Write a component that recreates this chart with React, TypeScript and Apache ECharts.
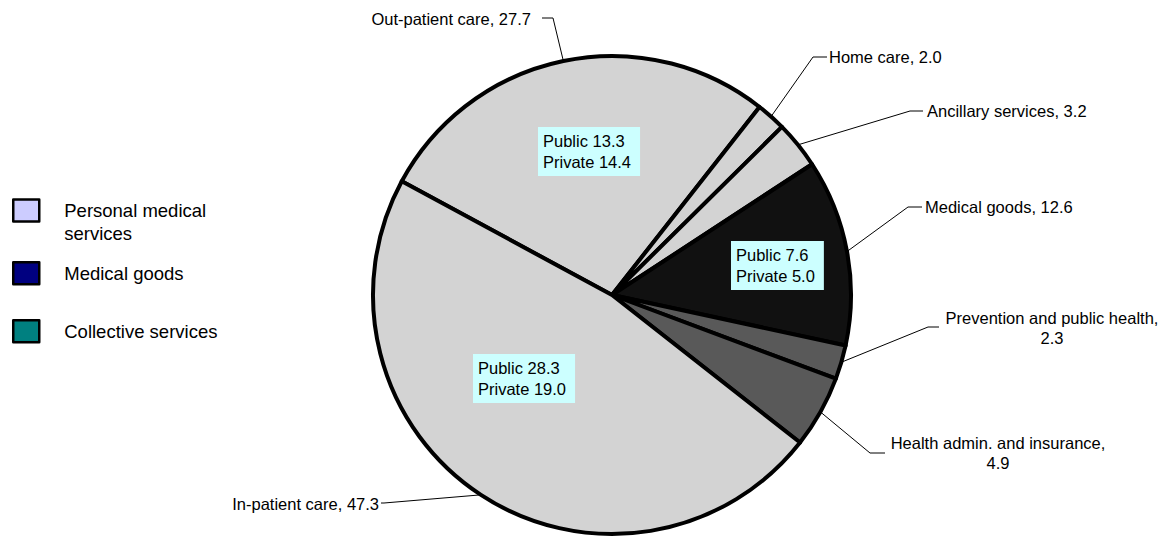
import React, { useEffect, useRef } from "react";
import * as echarts from "echarts";

// ---- data ----
const categories = [
  "Out-patient care",
  "Home care",
  "Ancillary services",
  "Medical goods",
  "Prevention and public health",
  "Health admin. and insurance",
  "In-patient care",
];
const values = [27.7, 2.0, 3.2, 12.6, 2.3, 4.9, 47.3];
const publicVals: (number | null)[] = [13.3, null, null, 7.6, null, null, 28.3];
const privateVals: (number | null)[] = [14.4, null, null, 5.0, null, null, 19.0];
const sliceGroup = [0, 0, 0, 1, 2, 2, 0];
const functionGroups = ["Personal medical services", "Medical goods", "Collective services"];
const groupTotals = [80.2, 12.6, 7.2];

// ---- styles / layout ----
const FONT = 'Arial, "Liberation Sans", sans-serif';
const sliceColors = ["#d3d3d3", "#111111", "#595959"];
const legendColors = ["#ccccff", "#000080", "#008080"];
const CX = 612;
const CY = 295;
const R = 239;
const START = 151.6;
const wrapLabel = [false, false, false, false, true, true, false];
const outerLayout = [
  { x: 531, y: 19, align: "right", k: [553, 18], e: [542, 18] },
  { x: 829, y: 57, align: "left", k: [813, 57], e: [827, 57] },
  { x: 927, y: 111, align: "left", k: [910, 111], e: [923, 111] },
  { x: 925, y: 207, align: "left", k: [908, 207], e: [922, 207] },
  { x: 1052, y: 328, align: "center", k: [928, 327], e: [939, 327] },
  { x: 998, y: 453, align: "center", k: [870, 453], e: [885, 453] },
  { x: 379, y: 504, align: "right", k: [384, 503], e: [381, 503] },
];
const innerLayout: Record<number, [number, number]> = {
  0: [538, 127],
  3: [731, 241],
  6: [473, 354],
};

function midPoint(i: number): number[] {
  const total = values.reduce((a, b) => a + b, 0);
  let cum = 0;
  for (let j = 0; j < i; j++) cum += values[j];
  const ang = ((START - (360 * (cum + values[i] / 2)) / total) * Math.PI) / 180;
  return [CX + R * Math.cos(ang), CY - R * Math.sin(ang)];
}

export default function App() {
  const ref = useRef<HTMLDivElement>(null);
  useEffect(() => {
    if (!ref.current) return;
    const chart = echarts.init(ref.current, null, { renderer: "svg" });
    const legendBase = {
      orient: "vertical",
      left: 12,
      padding: 0,
      icon: "rect",
      itemWidth: 26,
      itemHeight: 22,
      selectedMode: false,
      itemStyle: { borderColor: "#000", borderWidth: 2.5 },
    };
    const legendText = { fontFamily: FONT, fontSize: 18.5, color: "#000", lineHeight: 23, padding: [0, 0, 0, 20] };
    chart.setOption({
      animation: false,
      backgroundColor: "#ffffff",
      legend: [
        {
          ...legendBase,
          top: 176,
          data: [functionGroups[0]],
          formatter: () => "\nPersonal medical\nservices",
          textStyle: legendText,
        },
        {
          ...legendBase,
          top: 261,
          data: [functionGroups[1]],
          textStyle: legendText,
        },
        {
          ...legendBase,
          top: 319,
          data: [functionGroups[2]],
          textStyle: legendText,
        },
      ],
      series: [
        {
          // function groups (legend only)
          type: "pie",
          center: [CX, CY],
          radius: 0,
          silent: true,
          label: { show: false },
          labelLine: { show: false },
          itemStyle: { borderWidth: 0 },
          data: functionGroups.map((name, i) => ({
            name,
            value: groupTotals[i],
            itemStyle: { color: legendColors[i] },
          })),
        },
        {
          type: "pie",
          center: [CX, CY],
          radius: R,
          startAngle: START,
          clockwise: true,
          avoidLabelOverlap: false,
          minShowLabelAngle: 0,
          emphasis: { disabled: true },
          data: categories.map((name, i) => ({
            name,
            value: values[i],
            itemStyle: { color: sliceColors[sliceGroup[i]] },
          })),
          itemStyle: { borderColor: "#000", borderWidth: 4, borderJoin: "round" },
          label: {
            show: true,
            position: "outside",
            fontFamily: FONT,
            fontSize: 16.5,
            lineHeight: 20,
            color: "#000",
            formatter: (p: any) =>
              `${p.name},${wrapLabel[p.dataIndex] ? "\n" : " "}${Number(p.value).toFixed(1)}`,
          },
          labelLine: { show: true, lineStyle: { color: "#000", width: 1 } },
          labelLayout: (p: any) => {
            const L = outerLayout[p.dataIndex];
            return {
              x: L.x,
              y: L.y,
              align: L.align,
              verticalAlign: "middle",
              labelLinePoints: [midPoint(p.dataIndex), L.k, L.e],
            };
          },
        },
        {
          type: "pie",
          center: [CX, CY],
          radius: R,
          startAngle: START,
          clockwise: true,
          silent: true,
          avoidLabelOverlap: false,
          minShowLabelAngle: 0,
          emphasis: { disabled: true },
          itemStyle: { color: "rgba(0,0,0,0)", borderWidth: 0 },
          data: categories.map((name, i) => ({
            name: name + " (split)",
            value: values[i],
            label: { show: publicVals[i] != null },
          })),
          label: {
            position: "inside",
            fontFamily: FONT,
            fontSize: 16.5,
            lineHeight: 21,
            color: "#000",
            backgroundColor: "#ccffff",
            padding: [3, 9, 4, 5],
            align: "left",
            formatter: (p: any) =>
              publicVals[p.dataIndex] != null
                ? `Public ${publicVals[p.dataIndex]!.toFixed(1)}\nPrivate ${privateVals[p.dataIndex]!.toFixed(1)}`
                : "",
          },
          labelLine: { show: false },
          labelLayout: (p: any) => {
            const pos = innerLayout[p.dataIndex];
            if (!pos) return {};
            return { x: pos[0], y: pos[1], align: "left", verticalAlign: "top" };
          },
        },
      ],
    });
    return () => chart.dispose();
  }, []);
  return (
    <div
      ref={ref}
      style={{ position: "fixed", left: 0, top: 0, width: 1172, height: 537, background: "#fff" }}
    />
  );
}
